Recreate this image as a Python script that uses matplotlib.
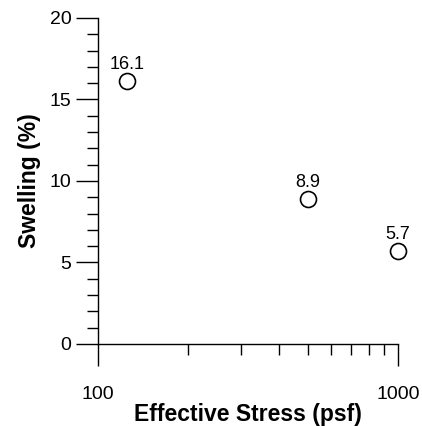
import matplotlib.pyplot as plt
from matplotlib.ticker import FixedLocator, MultipleLocator, NullFormatter

plt.rcParams['font.family'] = ['Liberation Sans', 'DejaVu Sans']

# data
stress = [125, 500, 1000]
swelling = [16.1, 8.9, 5.7]
labels = ["16.1", "8.9", "5.7"]

fig = plt.figure(figsize=(4.22, 4.26), dpi=100)
ax = fig.add_axes([0.232, 0.1925, 0.711, 0.7655])

ax.plot(stress, swelling, 'o', ms=11.5, mfc='white', mec='black', mew=1.2, clip_on=False)
for x, y, t in zip(stress, swelling, labels):
    ax.annotate(t, (x, y), xytext=(0, 12), textcoords='offset points',
                ha='center', va='center', fontsize=13)

ax.set_xscale('log')
ax.set_xlim(100, 1000)
ax.set_ylim(0, 20)
ax.xaxis.set_major_locator(FixedLocator([100, 1000]))
ax.xaxis.set_minor_locator(FixedLocator([200, 300, 400, 500, 600, 700, 800, 900]))
ax.xaxis.set_minor_formatter(NullFormatter())
ax.set_xticklabels(["100", "1000"])
ax.yaxis.set_major_locator(MultipleLocator(5))
ax.yaxis.set_minor_locator(MultipleLocator(1))

for s in ['top', 'right']:
    ax.spines[s].set_visible(False)
for s in ['left', 'bottom']:
    ax.spines[s].set_linewidth(1)

ax.tick_params(which='major', direction='out', length=16, width=1, labelsize=14, pad=3)
ax.tick_params(which='minor', direction='out', length=8, width=1)
ax.tick_params(axis='x', which='major', pad=14)

ax.set_xlabel("Effective Stress (psf)", fontsize=16.5, fontweight='bold', labelpad=0)
ax.set_ylabel("Swelling (%)", fontsize=16.5, fontweight='bold', labelpad=6)

fig.savefig("out.png", dpi=100)
